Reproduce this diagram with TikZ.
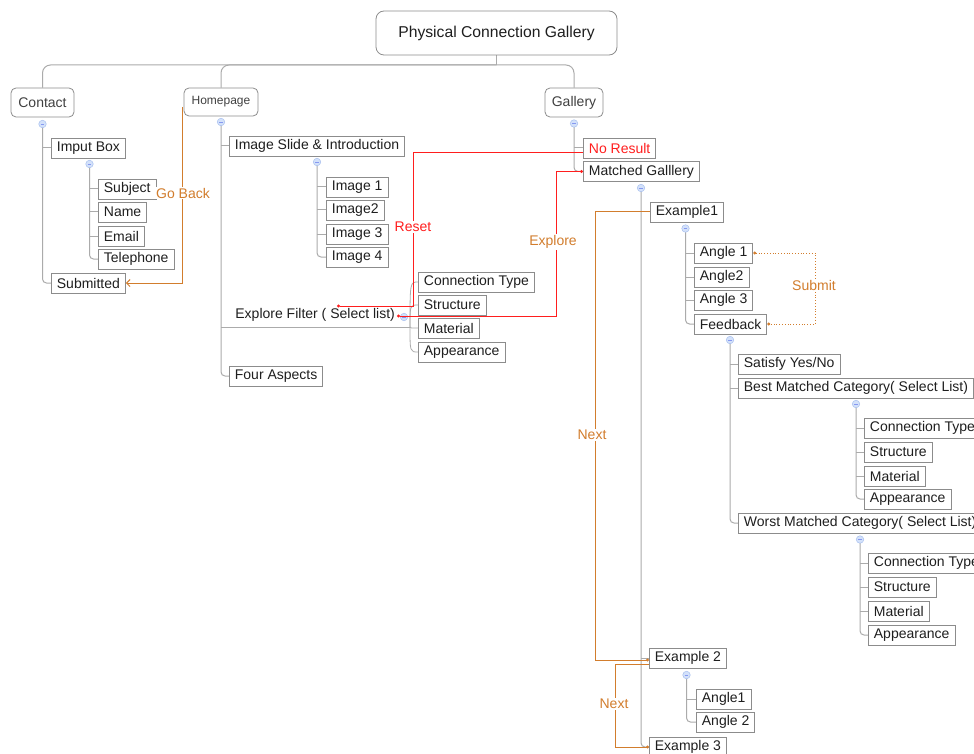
\documentclass[tikz,border=0pt]{standalone}
\usepackage{fontspec}
\setmainfont{Liberation Sans}
\usetikzlibrary{arrows.meta,calc}
\definecolor{linegray}{HTML}{ABABAB}
\definecolor{boxgray}{HTML}{8C8C8C}
\definecolor{textdark}{HTML}{1E1E1E}
\definecolor{textgray}{HTML}{404040}
\definecolor{togfill}{HTML}{D3E1FA}
\definecolor{togdraw}{HTML}{A7BFEE}
\definecolor{annor}{RGB}{210,125,45}
\definecolor{annred}{RGB}{255,30,30}
\pgfdeclarelayer{bg}
\pgfsetlayers{bg,main}
\begin{document}
\begin{tikzpicture}[x=1pt,y=-1pt,
  topbox/.style={draw=boxgray, line width=0.8pt, rounded corners=5pt, text=textgray,
    font=\fontsize{14}{16}\selectfont, inner sep=0pt},
  leaf/.style={draw=boxgray, line width=0.8pt, anchor=west, minimum height=20pt,
    inner xsep=5.5pt, inner ysep=0pt, text=textdark, font=\fontsize{14}{16}\selectfont},
  tog/.style={circle, fill=togfill, draw=togdraw, line width=0.5pt, minimum size=7.5pt,
    inner sep=0pt, path picture={\draw[togdraw!80!blue, line width=0.6pt]
      ($(path picture bounding box.center)+(-1.8pt,0pt)$) -- ++(3.6pt,0pt);}},
  conn/.style={draw=linegray, line width=1pt},
  elbow/.style={conn, rounded corners=4pt},
  ann/.style={font=\fontsize{14}{16}\selectfont, fill=white, inner sep=1pt},
  dottip/.style={-{Circle[length=3pt]}}
]
\useasboundingbox (0,0) rectangle (974,754);

% ---------- top level ----------
\node[topbox, minimum width=241pt, minimum height=44pt, rounded corners=8pt, text=textdark,
  font=\fontsize{15.7}{18}\selectfont] (title) at (496.5,33) {Physical Connection Gallery};
\node[topbox, minimum width=63pt, minimum height=29pt] (contact) at (42.5,102.5) {Contact};
\node[topbox, minimum width=74pt, minimum height=28pt, font=\fontsize{12}{14}\selectfont] (home) at (221,102) {Homepage};
\node[topbox, minimum width=58pt, minimum height=29pt] (gallery) at (574,102.5) {Gallery};
\coordinate (bus) at (496.5,65);

% ---------- contact ----------
\node[leaf] (imput) at (51,148) {Imput Box};
\node[leaf] (submitted) at (51,283) {Submitted};
\node[leaf] (subject) at (98,189) {Subject};
\node[leaf] (name) at (98,212) {Name};
\node[leaf] (email) at (98,236) {Email};
\node[leaf] (tel) at (98,259) {Telephone};

% ---------- homepage ----------
\node[leaf] (slide) at (229,146) {Image Slide \& Introduction};
\node[leaf] (img1) at (326,187) {Image 1};
\node[leaf] (img2) at (326,210) {Image2};
\node[leaf] (img3) at (326,234) {Image 3};
\node[leaf] (img4) at (326,257) {Image 4};
\node[leaf, draw=none, inner xsep=6pt] (ef) at (229,315) {Explore Filter ( Select list)};
\coordinate (efhub) at (410,327);
\node[leaf] (ct) at (418,282) {Connection Type};
\node[leaf] (st) at (418,305) {Structure};
\node[leaf] (ma) at (418,328) {Material};
\node[leaf] (ap) at (418,352) {Appearance};
\node[leaf] (four) at (229,376) {Four Aspects};

% ---------- gallery ----------
\node[leaf, text=annred] (noresult) at (583,148) {No Result};
\node[leaf] (matched) at (583,171.5) {Matched Galllery};
\node[leaf] (ex1) at (650,212) {Example1};
\node[leaf] (a1) at (694,253) {Angle 1};
\node[leaf] (a2) at (694,277) {Angle2};
\node[leaf] (a3) at (694,300) {Angle 3};
\node[leaf] (fb) at (694,324) {Feedback};
\node[leaf] (sat) at (738,364) {Satisfy Yes/No};
\node[leaf] (best) at (738,388) {Best Matched Category( Select List)};
\node[leaf] (bct) at (864,428) {Connection Type};
\node[leaf] (bst) at (864,452) {Structure};
\node[leaf] (bma) at (864,476) {Material};
\node[leaf] (bap) at (864,499) {Appearance};
\node[leaf] (worst) at (738,523) {Worst Matched Category( Select List)};
\node[leaf] (wct) at (868,563) {Connection Type};
\node[leaf] (wst) at (868,587) {Structure};
\node[leaf] (wma) at (868,611) {Material};
\node[leaf] (wap) at (868,635) {Appearance};
\node[leaf] (ex2) at (649,658) {Example 2};
\node[leaf] (b1) at (696,699) {Angle1};
\node[leaf] (b2) at (696,722) {Angle 2};
\node[leaf] (ex3) at (649,747) {Example 3};

% ---------- toggles ----------
\node[tog] (tC) at (42.5,124) {};
\node[tog] (tH) at (221,122) {};
\node[tog] (tG) at (574,123.5) {};
\node[tog] (tI) at (89.5,164) {};
\node[tog] (tS) at (317,162) {};
\node[tog] (tE) at (404,317) {};
\node[tog] (tM) at (641,188) {};
\node[tog] (tX1) at (685.5,228.5) {};
\node[tog] (tF) at (730,340) {};
\node[tog] (tB) at (856,404) {};
\node[tog] (tW) at (860,539.5) {};
\node[tog] (tX2) at (686.5,675) {};

% ---------- tree connectors ----------
\begin{pgfonlayer}{bg}
\draw[conn] (title.south) -- (bus);
\draw[conn, rounded corners=8pt] (contact.north) |- (bus) -| (gallery.north);
\draw[conn, rounded corners=8pt] (home.north) |- (bus);
% contact
\draw[elbow] (tC.center) |- (submitted.west);
\draw[conn] (imput.west) -- (imput.west -| tC.center);
\draw[elbow] (tI.center) |- (tel.west);
\foreach \n in {subject,name,email} \draw[conn] (\n.west) -- (\n.west -| tI.center);
% homepage
\draw[elbow] (tH.center) |- (four.west);
\draw[conn] (slide.west) -- (slide.west -| tH.center);
\draw[conn] (efhub) -- (efhub -| tH.center);
\draw[elbow] (tS.center) |- (img4.west);
\foreach \n in {img1,img2,img3} \draw[conn] (\n.west) -- (\n.west -| tS.center);
\foreach \n in {ct,st,ma,ap} \draw[conn, line width=0.8pt] (efhub) .. controls (efhub |- \n.west) .. (\n.west);
% gallery
\draw[elbow] (tG.center) |- (matched.west);
\draw[conn] (noresult.west) -- (noresult.west -| tG.center);
\draw[elbow] (tM.center) |- (ex3.west);
\foreach \n in {ex1,ex2} \draw[conn] (\n.west) -- (\n.west -| tM.center);
\draw[elbow] (tX1.center) |- (fb.west);
\foreach \n in {a1,a2,a3} \draw[conn] (\n.west) -- (\n.west -| tX1.center);
\draw[elbow] (tF.center) |- (worst.west);
\foreach \n in {sat,best} \draw[conn] (\n.west) -- (\n.west -| tF.center);
\draw[elbow] (tB.center) |- (bap.west);
\foreach \n in {bct,bst,bma} \draw[conn] (\n.west) -- (\n.west -| tB.center);
\draw[elbow] (tW.center) |- (wap.west);
\foreach \n in {wct,wst,wma} \draw[conn] (\n.west) -- (\n.west -| tW.center);
\draw[elbow] (tX2.center) |- (b2.west);
\draw[conn] (b1.west) -- (b1.west -| tX2.center);
\end{pgfonlayer}

% ---------- annotations ----------
% Go Back
\draw[annor, line width=1pt, -{Straight Barb[length=3.5pt,width=7pt]}]
  ($(home.west)+(-1,5)$) |- (submitted.east);
\node[ann, text=annor] (goback) at (183,193) {Go Back};
% Reset
\coordinate (rc) at (413,306);
\coordinate (resetend) at (337,306);
\draw[annred, line width=1pt, dottip] ($(noresult.west)+(0,5)$) -| (rc) -- (resetend);
\node[ann, text=annred] (reset) at (413,227) {Reset};
% Explore
\coordinate (exstart) at (397,316);
\coordinate (xc) at (556,171.5);
\draw[annred, line width=1pt, {Circle[length=3pt]}-{Circle[length=3pt]}] (exstart) -| (xc) -- (matched.west);
\node[ann, text=annor] (explore) at (553,242) {Explore};
% Next 1
\coordinate (n1) at (595.5,660);
\draw[annor, line width=1pt, dottip] (ex1.west) -| (n1) -- ($(ex2.west)+(0,2)$);
\node[ann, text=annor] (next1) at (592,435) {Next};
% Next 2
\coordinate (n2) at (615.5,747);
\draw[annor, line width=1pt, dottip] ($(ex2.west)+(0,6)$) -| (n2) -- (ex3.west);
\node[ann, text=annor] (next2) at (614,704) {Next};
% Submit
\coordinate (sm) at (815,288);
\draw[annor, line width=0.8pt, dotted, {Circle[length=3pt]}-{Circle[length=3pt]}]
  (a1.east) -| (sm) |- (fb.east);
\node[ann, text=annor] (submit) at (814,285) {Submit};
\end{tikzpicture}
\end{document}
